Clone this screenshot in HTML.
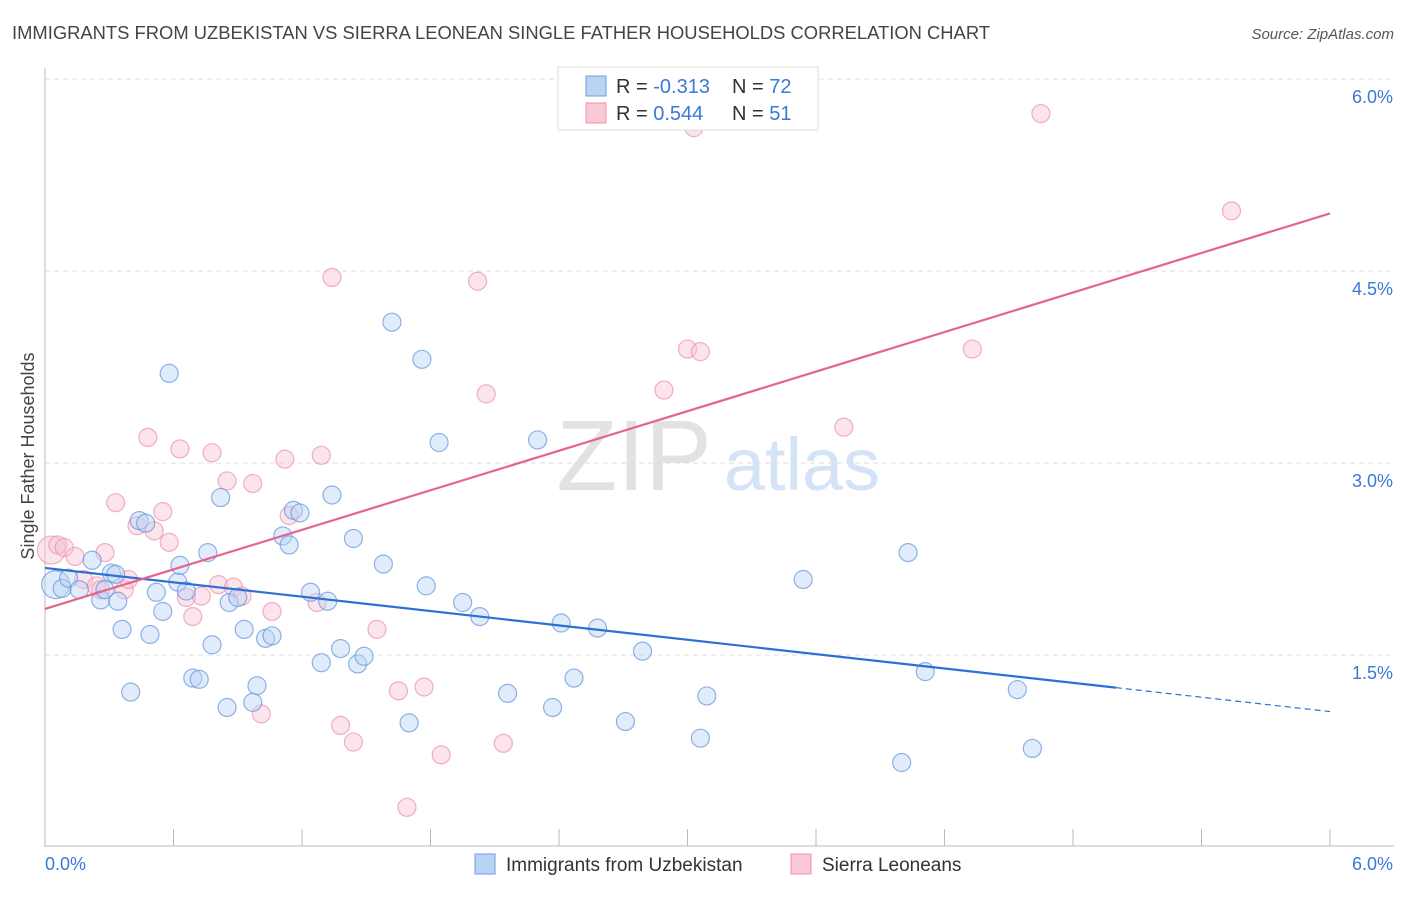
<!DOCTYPE html>
<html><head><meta charset="utf-8"><style>
body{margin:0;background:#fff;font-family:"Liberation Sans",sans-serif;}
svg text{font-family:"Liberation Sans",sans-serif;}
</style></head><body>
<svg id="chart" width="1406" height="892" xmlns="http://www.w3.org/2000/svg">
<text x="12" y="39" font-size="18" fill="#444" textLength="978" lengthAdjust="spacingAndGlyphs">IMMIGRANTS FROM UZBEKISTAN VS SIERRA LEONEAN SINGLE FATHER HOUSEHOLDS CORRELATION CHART</text>
<text x="1394" y="39" font-size="15" fill="#555" text-anchor="end" font-style="italic">Source: ZipAtlas.com</text>
<g>
<text x="634" y="490" font-size="100" fill="#e2e2e2" text-anchor="middle" font-family="Liberation Serif">ZIP</text>
<text x="802" y="490" font-size="74" fill="#d4e3f5" text-anchor="middle">atlas</text>
</g>
<g id="grid"></g>
<g id="axes"></g>
<g id="pts"></g>
<g id="lines"></g>
<text transform="translate(34,456) rotate(-90)" font-size="18" fill="#444" text-anchor="middle">Single Father Households</text>
<g>
<rect x="558" y="67" width="260" height="63" fill="#fff" stroke="#ddd"/>
<rect x="586" y="76" width="20" height="20" fill="#b9d3f5" stroke="#6d9de0"/>
<rect x="586" y="103" width="20" height="20" fill="#f9c9d6" stroke="#ec8fac"/>
<text x="616" y="93" font-size="20" fill="#333">R = <tspan fill="#3b78d8">-0.313</tspan></text>
<text x="732" y="93" font-size="20" fill="#333">N = <tspan fill="#3b78d8">72</tspan></text>
<text x="616" y="120" font-size="20" fill="#333">R = <tspan fill="#3b78d8"> 0.544</tspan></text>
<text x="732" y="120" font-size="20" fill="#333">N = <tspan fill="#3b78d8"> 51</tspan></text>
</g>
<g>
<rect x="475" y="854" width="20" height="20" fill="#b9d3f5" stroke="#6d9de0"/>
<text x="506" y="871" font-size="19" fill="#333">Immigrants from Uzbekistan</text>
<rect x="791" y="854" width="20" height="20" fill="#f9c9d6" stroke="#ec8fac"/>
<text x="822" y="871" font-size="19" fill="#333">Sierra Leoneans</text>
</g>
</svg>
<script>
const yTicks=[1.5,3.0,4.5,6.0];
const yTickLabels=["1.5%","3.0%","4.5%","6.0%"];
const xTickLabels=["0.0%","6.0%"];
const blueX=[0.05,0.08,0.11,0.16,0.22,0.26,0.28,0.31,0.34,0.36,0.40,0.44,0.47,0.49,0.52,0.55,0.58,0.62,0.63,0.66,0.69,0.72,0.76,0.78,0.82,0.85,0.86,0.90,0.93,0.99,0.97,1.03,1.06,1.11,1.14,1.16,1.19,1.24,1.29,1.32,1.34,1.38,1.44,1.46,1.49,1.58,1.62,1.70,1.76,1.78,1.84,1.95,2.03,2.16,2.30,2.37,2.41,2.47,2.58,2.71,2.79,3.06,3.09,3.54,4.00,4.03,4.11,4.54,4.61,0.33];
const blueY=[2.05,2.02,2.10,2.01,2.24,1.93,2.01,2.14,1.92,1.70,1.21,2.55,2.53,1.66,1.99,1.84,3.70,2.07,2.20,2.00,1.32,1.31,2.30,1.58,2.73,1.09,1.91,1.95,1.70,1.26,1.13,1.63,1.65,2.43,2.36,2.63,2.61,1.99,1.44,1.92,2.75,1.55,2.41,1.43,1.49,2.21,4.10,0.97,3.81,2.04,3.16,1.91,1.80,1.20,3.18,1.09,1.75,1.32,1.71,0.98,1.53,0.85,1.18,2.09,0.66,2.30,1.37,1.23,0.77,2.13];
const pinkX=[0.03,0.06,0.09,0.14,0.18,0.24,0.28,0.33,0.37,0.39,0.43,0.48,0.51,0.55,0.58,0.63,0.66,0.69,0.73,0.78,0.81,0.85,0.88,0.92,0.97,1.01,1.06,1.12,1.14,1.27,1.29,1.34,1.38,1.44,1.55,1.65,1.69,1.77,1.85,2.02,2.06,2.14,2.89,3.00,3.03,3.06,3.73,4.33,4.65,5.54,0.26];
const pinkY=[2.32,2.36,2.34,2.27,2.09,2.04,2.30,2.69,2.01,2.09,2.51,3.20,2.47,2.62,2.38,3.11,1.95,1.80,1.96,3.08,2.05,2.86,2.03,1.96,2.84,1.04,1.84,3.03,2.59,1.91,3.06,4.45,0.95,0.82,1.70,1.22,0.31,1.25,0.72,4.42,3.54,0.81,3.57,3.89,5.62,3.87,3.28,3.89,5.73,4.97,2.01];
const blueTrend=[2.18,-0.187];
const pinkTrend=[1.86,0.515];
const NS="http://www.w3.org/2000/svg";
const X=v=>45+v*214.17;
const Y=v=>847-v*128;
function mk(t,a,p){const e=document.createElementNS(NS,t);for(const k in a)e.setAttribute(k,a[k]);p.appendChild(e);return e;}
const grid=document.getElementById('grid'),axes=document.getElementById('axes');
yTicks.forEach((t,i)=>{
 const l=mk('line',{x1:45,x2:1394,y1:Y(t),y2:Y(t),stroke:'#ddd','stroke-dasharray':'5,4'},grid);
 
 
 const tx=mk('text',{x:1393,y:Y(t)+24,'font-size':18,fill:'#3b78d8','text-anchor':'end'},axes);
 tx.textContent=yTickLabels[i];
 
 
});
const ax=mk('line',{x1:45,x2:45,y1:68,y2:847,stroke:'#bbb'},axes);


const bx=mk('line',{x1:45,x2:1394,y1:846,y2:846,stroke:'#bbb'},axes);


for(let i=0;i<=10;i++){const v=i*0.6;const t=mk('line',{x1:X(v),x2:X(v),y1:829,y2:846,stroke:'#bbb'},axes);
 
 }
[[0,45,'start'],[6,1393,'end']].forEach((d,i)=>{const t=mk('text',{x:d[1],y:870,'font-size':18,fill:'#3b78d8','text-anchor':d[2]},axes);t.textContent=xTickLabels[i];
 
 });
const pts=document.getElementById('pts');
function dots(xs,ys,fill,stroke,name){xs.forEach((x,i)=>{const big=(x<0.06);const c=mk('circle',{cx:X(x),cy:Y(ys[i]),r:big?14:9,fill:fill,'fill-opacity':0.45,stroke:stroke,'stroke-opacity':0.7,'stroke-width':1.2},pts);
 
 });}
dots(pinkX,pinkY,'#f7c3d2','#ec8fac','sierra-leonean-point');
dots(blueX,blueY,'#bcd4f4','#5f93de','uzbekistan-point');
const lines=document.getElementById('lines');
const b1=mk('line',{x1:X(0),y1:Y(blueTrend[0]),x2:X(5),y2:Y(blueTrend[0]+blueTrend[1]*5),stroke:'#2e6fd6','stroke-width':2.2},lines);


const b2=mk('line',{x1:X(5),y1:Y(blueTrend[0]+blueTrend[1]*5),x2:X(6),y2:Y(blueTrend[0]+blueTrend[1]*6),stroke:'#2e6fd6','stroke-width':1.2,'stroke-dasharray':'6,4'},lines);


const p1=mk('line',{x1:X(0),y1:Y(pinkTrend[0]),x2:X(6),y2:Y(pinkTrend[0]+pinkTrend[1]*6),stroke:'#e3648f','stroke-width':2.2},lines);


</script>
</body></html>
